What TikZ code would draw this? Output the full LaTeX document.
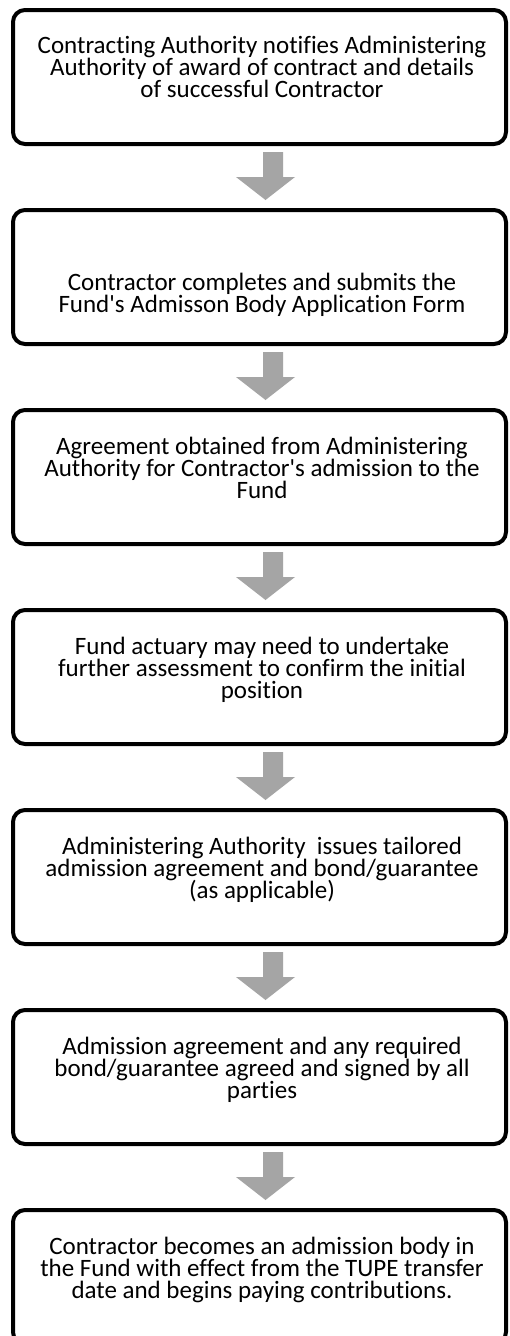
\documentclass[tikz,border=0pt]{standalone}
\usepackage{fontspec}
\newfontfamily\carl{Carlito}[Ligatures=CommonOff]
\usetikzlibrary{calc}
\definecolor{arrgray}{HTML}{A5A5A5}
\tikzset{
  stepbox/.style={draw=black, line width=4pt, rounded corners=12pt, fill=white,
    minimum width=493pt, minimum height=134pt, outer sep=0pt, inner sep=0pt},
  txt/.style={align=center, inner sep=0pt, anchor=north, text=black,
    font={\carl\fontsize{25}{22}\selectfont\lineskiplimit=-100pt}},
  blockarr/.style={fill=arrgray, draw=none}
}
\newcommand{\st}{\rule{0pt}{19pt}}
\begin{document}
\begin{tikzpicture}[x=1pt,y=1pt]
\clip (0,0) rectangle (509,-1336);
\fill[white] (0,0) rectangle (509,-1336);
% boxes
\node[stepbox] (b1) at (259.5,-77) {};
\node[stepbox] (b2) at (259.5,-277) {};
\node[stepbox] (b3) at (259.5,-477) {};
\node[stepbox] (b4) at (259.5,-677) {};
\node[stepbox] (b5) at (259.5,-877) {};
\node[stepbox] (b6) at (259.5,-1077) {};
\node[stepbox] (b7) at (259.5,-1277) {};
% texts
\node[txt] (t1) at (262,-34) {\st Contracting Authority notifies Administering\\Authority of award of contract and details\\of successful Contractor};
\node[txt] (t2) at (262,-271) {\st Contractor completes and submits the\\Fund's Admisson Body Application Form};
\node[txt] (t3) at (262,-435) {\st Agreement obtained from Administering\\Authority for Contractor's admission to the\\Fund};
\node[txt] (t4) at (262,-635) {\st Fund actuary may need to undertake\\further assessment to confirm the initial\\position};
\node[txt] (t5) at (262,-835) {\st Administering Authority\ \ issues tailored\\admission agreement and bond/guarantee\\(as applicable)};
\node[txt] (t6) at (262,-1035) {\st Admission agreement and any required\\bond/guarantee agreed and signed by all\\parties};
\node[txt] (t7) at (262,-1235) {\st Contractor becomes an admission body in\\the Fund with effect from the TUPE transfer\\date and begins paying contributions.};
% block arrows
\foreach \a/\b in {b1/b2,b2/b3,b3/b4,b4/b5,b5/b6,b6/b7}{
  \fill[blockarr] ($(\a.south)+(3.5,-8)$) -- ++(20,0) -- ++(0,-25) -- ++(12,0)
    -- ($(\b.north)+(6,10)$) -- ($(\a.south)+(-23.5,-33)$) -- ++(27,0) -- cycle;
}
\end{tikzpicture}
\end{document}
